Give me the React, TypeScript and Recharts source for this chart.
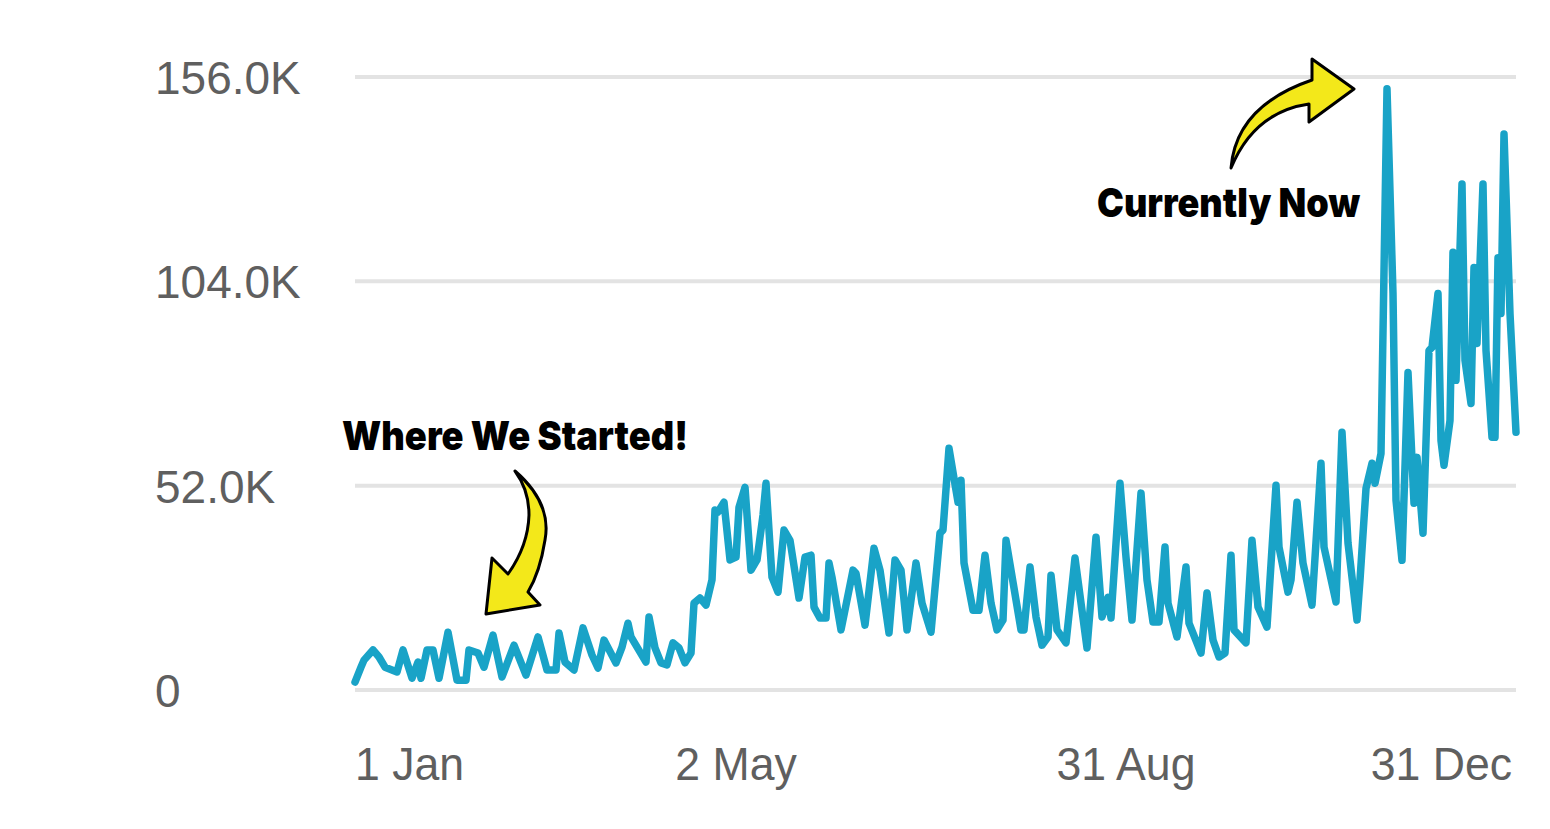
import React from "react";
import { LineChart, Line, XAxis, YAxis, CartesianGrid } from "recharts";

// day offsets (irregular, only turning points of the daily series)
const days = [
  0, 2, 3, 6, 8, 10, 14, 16, 19, 21, 22, 24, 26, 28, 31, 34, 37, 38, 41, 43,
  46, 49, 53, 57, 61, 64, 67, 68, 70, 73, 76, 79, 81, 83, 87, 89, 91, 92, 97, 98,
  100, 102, 104, 106, 108, 110, 112, 113, 115, 117, 119, 120, 121, 123, 125, 127, 128, 130, 132, 134,
  136, 137, 139, 141, 143, 145, 148, 150, 152, 153, 155, 157, 158, 159, 162, 166, 167, 170, 173, 175,
  178, 180, 182, 184, 187, 189, 192, 195, 196, 198, 201, 202, 203, 206, 208, 210, 212, 214, 216, 217,
  222, 223, 225, 227, 229, 231, 232, 234, 237, 240, 244, 247, 249, 251, 252, 255, 257, 259, 262, 264,
  266, 268, 270, 271, 274, 277, 278, 282, 284, 286, 288, 290, 292, 293, 297, 299, 301, 304, 307, 308,
  311, 312, 314, 316, 319, 322, 323, 327, 329, 331, 334, 335, 337, 339, 340, 342, 344, 346, 347, 349,
  351, 353, 354, 356, 358, 359, 361, 362, 363, 365, 366, 367, 369, 370, 372, 373, 374, 376, 377, 378,
  379, 380, 381, 382, 383, 385, 387,
];

const visits = [
  2000, 5800, 7600, 10200, 8400, 5800, 4600, 10200, 3000, 7100, 3000, 10200, 10200, 3000, 14700, 2500, 2500, 10200, 9400, 5800,
  14000, 3300, 11400, 3800, 13500, 5100, 5100, 14500, 7100, 5100, 15800, 8900, 5600, 12700, 6900, 10900, 17000, 13500, 7100, 18600,
  10700, 6900, 6400, 12000, 10700, 6900, 9400, 22100, 23400, 21600, 28000, 45800, 45300, 47800, 33100, 33800, 46500, 51600, 30500, 33100,
  44500, 52600, 28700, 24900, 40700, 38100, 23400, 33800, 34300, 21100, 18300, 18300, 32300, 28700, 15300, 30500, 29700, 16500, 36100, 30500,
  14500, 33100, 30500, 15300, 32300, 22100, 14700, 39900, 40700, 61500, 47800, 53400, 32300, 20300, 20300, 34300, 22100, 15300, 17800, 38100,
  15300, 15300, 31300, 18600, 11400, 13500, 29200, 15300, 12000, 33600, 10700, 38900, 18600, 23600, 18300, 52600, 33800, 17800, 50100, 28000,
  17300, 17300, 36400, 22100, 13500, 31300, 17000, 9400, 24700, 12700, 8400, 9400, 34300, 15300, 12000, 38100, 21100, 16000, 52100, 36400,
  24900, 28000, 47800, 32300, 21600, 57700, 36400, 22400, 65600, 37400, 17800, 28000, 51300, 57700, 52600, 60200, 153000, 100900, 48300, 33000,
  80800, 47500, 59200, 39900, 86400, 87200, 100900, 63500, 57200, 68600, 111400, 78800, 128800, 83900, 72900, 107500, 88200, 128800, 86400, 75500,
  64300, 64300, 110000, 95800, 141500, 95800, 65600,
];

const yTicks = [0, 52000, 104000, 156000];
const yTickLabels = ["0", "52.0K", "104.0K", "156.0K"];
const xTicks = [0, 127, 257, 387];
const xTickLabels = ["1 Jan", "2 May", "31 Aug", "31 Dec"];

const data = days.map((day, i) => ({ day, visits: visits[i] }));

const LINE = "#19a3c7";
const LABEL = "#5f5f5f";
const FONT = "'Liberation Sans', Arial, sans-serif";

function YTick({ y, payload }: any) {
  const i = yTicks.indexOf(payload.value);
  return (
    <text x={155} y={y} dy={17} fontSize={46} fill={LABEL} fontFamily={FONT} textAnchor="start">
      {yTickLabels[i]}
    </text>
  );
}

function XTick({ x, payload, index }: any) {
  const i = xTicks.indexOf(payload.value);
  const last = index === xTicks.length - 1;
  const anchor = index === 0 ? "start" : last ? "end" : "middle";
  const tx = last ? x - 4 : x;
  return (
    <g transform={`translate(${tx} 780) scale(0.97 1)`}>
      <text x={0} y={0} fontSize={46} fill={LABEL} fontFamily={FONT} textAnchor={anchor}>
        {xTickLabels[i]}
      </text>
    </g>
  );
}

function Callouts() {
  const heavy = "Inter, 'Noto Sans', sans-serif";
  return (
    <svg
      width={1550}
      height={829}
      style={{ position: "absolute", left: 0, top: 0, pointerEvents: "none" }}
    >
      <text x={342} y={450} fontSize={40} fontWeight={900} fontFamily={heavy} fill="#000"
        textLength={346} lengthAdjust="spacingAndGlyphs">
        Where We Started!
      </text>
      <path
        d="M515,471 Q552,503 545,540 Q540,572 528,592 L540,605 L486,614 L492,558 L508,574 Q528,546 529,515 Q529,490 515,471 Z"
        fill="#f3e81a" stroke="#000" strokeWidth={3} strokeLinejoin="round"
      />

      <text x={1097} y={217} fontSize={40} fontWeight={900} fontFamily={heavy} fill="#000"
        textLength={263} lengthAdjust="spacingAndGlyphs">
        Currently Now
      </text>
      <path
        d="M1231,168 Q1236,106 1312,80 L1312,59 L1354,89 L1309,122 L1309,104 Q1254,112 1231,168 Z"
        fill="#f3e81a" stroke="#000" strokeWidth={3} strokeLinejoin="round"
      />
    </svg>
  );
}

export default function App() {
  return (
    <div style={{ position: "absolute", left: 0, top: 0, width: 1550, height: 829, background: "#fff" }}>
      <LineChart
        width={1550}
        height={829}
        data={data}
        margin={{ top: 77, right: 34, bottom: 39, left: 0 }}
      >
        <CartesianGrid vertical={false} stroke="#e3e3e3" strokeWidth={4} />
        <XAxis
          dataKey="day"
          type="number"
          domain={[0, 387]}
          ticks={xTicks}
          tick={<XTick />}
          axisLine={false}
          tickLine={false}
          height={100}
          interval={0}
        />
        <YAxis
          domain={[0, 156000]}
          ticks={yTicks}
          tick={<YTick />}
          axisLine={false}
          tickLine={false}
          width={355}
          interval={0}
        />
        <Line
          type="linear"
          dataKey="visits"
          stroke={LINE}
          strokeWidth={7.5}
          strokeLinejoin="round"
          strokeLinecap="round"
          dot={false}
          isAnimationActive={false}
        />
      </LineChart>
      <Callouts />
    </div>
  );
}
